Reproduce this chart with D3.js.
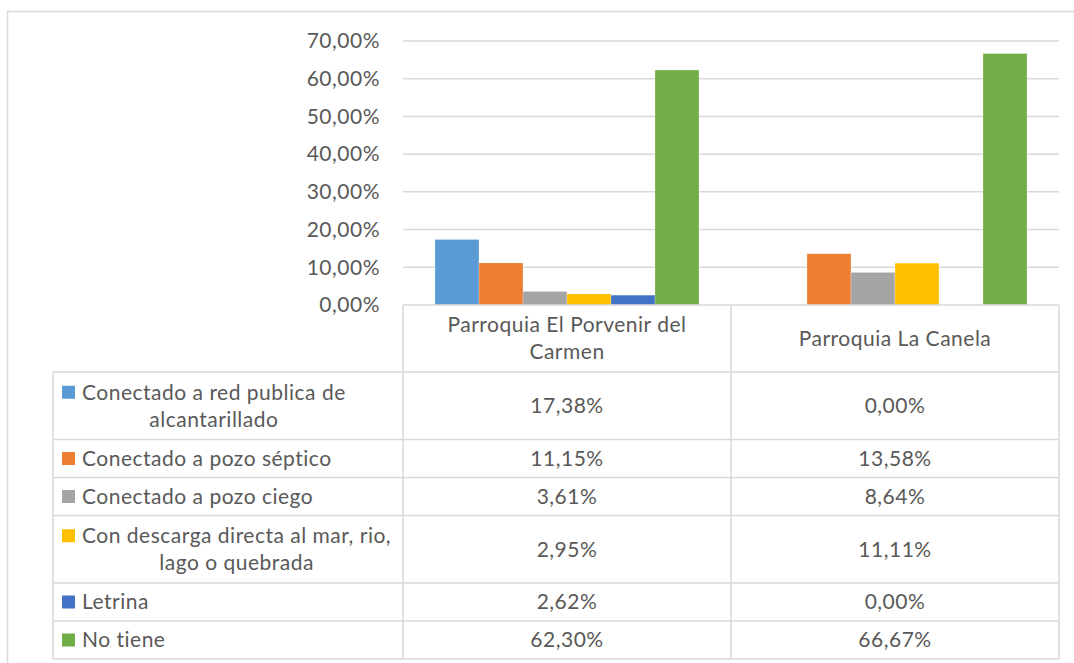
<!DOCTYPE html>
<html>
<head>
<meta charset="utf-8">
<script src="https://cdn.jsdelivr.net/npm/d3@7"></script>
<style>
  body { margin: 0; background: #fff; }
  text { font-family: Lato, "Open Sans", sans-serif; fill: #595959; letter-spacing: 0.5px; }
</style>
</head>
<body>
<div id="chart"></div>
<script>
// Data.
const categories = ["Parroquia El Porvenir del\nCarmen", "Parroquia La Canela"];
const seriesNames = [
  "Conectado a red publica de\nalcantarillado",
  "Conectado a pozo séptico",
  "Conectado a pozo ciego",
  "Con descarga directa al mar, rio,\nlago o quebrada",
  "Letrina",
  "No tiene"
];
const porvenirValues = [0.1738, 0.1115, 0.0361, 0.0295, 0.0262, 0.6230];
const canelaValues = [0.0000, 0.1358, 0.0864, 0.1111, 0.0000, 0.6667];
const yTicks = [0, 0.1, 0.2, 0.3, 0.4, 0.5, 0.6, 0.7];
const colors = ["#5B9BD5", "#ED7D31", "#A5A5A5", "#FFC000", "#4472C4", "#70AD47"];

const width = 1074;
const height = 663;
const plot = { left: 403, right: 1059, top: 41, bottom: 305 };
const legendLeft = 53;
const fontSize = 21;

const values = [porvenirValues, canelaValues];

const svg = d3.select("#chart")
  .append("svg")
  .attr("width", width)
  .attr("height", height);

// Outer chart border (runs past the right and bottom edge).
svg.append("rect")
  .attr("x", 7.5)
  .attr("y", 11.5)
  .attr("width", 1100)
  .attr("height", 700)
  .attr("fill", "none")
  .attr("stroke", "#d9d9d9")
  .attr("stroke-width", 1.5);

// Scales.
const x0 = d3.scaleBand()
  .domain(categories)
  .range([plot.left, plot.right]);

const x1 = d3.scaleBand()
  .domain(d3.range(seriesNames.length))
  .range([0, x0.bandwidth()])
  .paddingOuter(0.727);

const y = d3.scaleLinear()
  .domain([0, 0.7])
  .range([plot.bottom, plot.top]);

const locale = d3.formatLocale({ decimal: ",", thousands: ".", grouping: [3], currency: ["", "€"] });
const pct = locale.format(".2%");

// Gridlines.
svg.append("g")
  .selectAll("line")
  .data(yTicks.filter(function(d) { return d > 0; }))
  .enter()
  .append("line")
  .attr("x1", plot.left)
  .attr("x2", plot.right)
  .attr("y1", function(d) { return y(d); })
  .attr("y2", function(d) { return y(d); })
  .attr("stroke", "#d9d9d9")
  .attr("stroke-width", 1.5);

// Y axis labels.
const yAxis = svg.append("g")
  .attr("transform", "translate(" + (plot.left - 23) + ",0)")
  .call(d3.axisLeft(y).tickValues(yTicks).tickFormat(pct).tickSize(0).tickPadding(0));
yAxis.select(".domain").remove();
yAxis.selectAll("text")
  .attr("font-family", "Lato, sans-serif")
  .attr("font-size", fontSize)
  .attr("fill", "#595959");

// Bars.
categories.forEach(function(cat, ci) {
  svg.append("g")
    .selectAll("rect")
    .data(values[ci])
    .enter()
    .append("rect")
    .attr("x", function(d, i) { return x0(cat) + x1(i); })
    .attr("y", function(d) { return y(d); })
    .attr("width", x1.bandwidth())
    .attr("height", function(d) { return y(0) - y(d); })
    .attr("fill", function(d, i) { return colors[i]; })
    .attr("stroke", "#fff")
    .attr("stroke-opacity", 0.5)
    .attr("stroke-width", 0.5);
});

// Data table.
const lineGap = 27;
function rowHeight(label) {
  return label.split("\n").length > 1 ? 67.5 : 38;
}

const rows = [];
let yPos = plot.bottom + 67;
seriesNames.forEach(function(name, i) {
  const h = rowHeight(name);
  rows.push({ name: name, top: yPos, h: h, i: i });
  yPos += h;
});
const tableBottom = yPos;

const table = svg.append("g")
  .attr("fill", "none")
  .attr("stroke", "#d9d9d9")
  .attr("stroke-width", 1.5);

// Horizontal lines.
table.append("line")
  .attr("x1", plot.left).attr("x2", plot.right)
  .attr("y1", plot.bottom).attr("y2", plot.bottom);
rows.forEach(function(r) {
  table.append("line")
    .attr("x1", legendLeft).attr("x2", plot.right)
    .attr("y1", r.top).attr("y2", r.top);
});
table.append("line")
  .attr("x1", legendLeft).attr("x2", plot.right)
  .attr("y1", tableBottom).attr("y2", tableBottom);

// Vertical lines.
table.append("line")
  .attr("x1", legendLeft).attr("x2", legendLeft)
  .attr("y1", rows[0].top).attr("y2", tableBottom);
[plot.left, x0(categories[1]), plot.right].forEach(function(xv) {
  table.append("line")
    .attr("x1", xv).attr("x2", xv)
    .attr("y1", plot.bottom).attr("y2", tableBottom);
});

// Header labels.
categories.forEach(function(cat) {
  const lines = cat.split("\n");
  const cy = plot.bottom + 67 / 2;
  lines.forEach(function(line, li) {
    svg.append("text")
      .attr("x", x0(cat) + x0.bandwidth() / 2)
      .attr("y", cy + (li - (lines.length - 1) / 2) * lineGap)
      .attr("dy", "0.35em")
      .attr("text-anchor", "middle")
      .attr("font-size", fontSize)
      .text(line);
  });
});

// Legend cells and values.
const textLeft = 82;
rows.forEach(function(r) {
  const lines = r.name.split("\n");
  const cy = r.top + r.h / 2;
  const g = svg.append("g");
  const texts = lines.map(function(line, li) {
    return g.append("text")
      .attr("y", cy + (li - (lines.length - 1) / 2) * lineGap)
      .attr("dy", "0.35em")
      .attr("font-size", fontSize)
      .text(line);
  });
  const widths = texts.map(function(t) { return t.node().getComputedTextLength(); });
  const blockW = d3.max(widths);
  texts.forEach(function(t, li) {
    t.attr("x", textLeft + (blockW - widths[li]) / 2);
  });

  const firstY = cy - (lines.length - 1) / 2 * lineGap;
  g.append("rect")
    .attr("x", 62)
    .attr("y", firstY - 6.5)
    .attr("width", 13)
    .attr("height", 13)
    .attr("fill", colors[r.i]);

  categories.forEach(function(cat, ci) {
    svg.append("text")
      .attr("x", x0(cat) + x0.bandwidth() / 2)
      .attr("y", cy)
      .attr("dy", "0.35em")
      .attr("text-anchor", "middle")
      .attr("font-size", fontSize)
      .text(pct(values[ci][r.i]));
  });
});
</script>
</body>
</html>
